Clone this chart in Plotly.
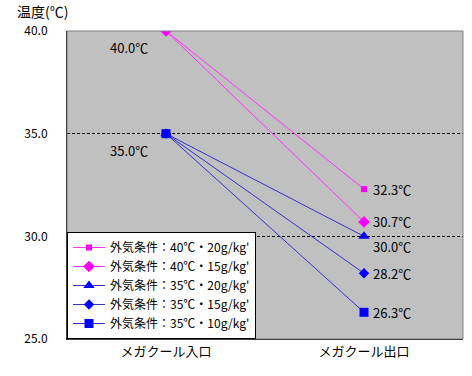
import plotly.graph_objects as go

categories = ["メガクール入口", "メガクール出口"]
series_names = [
    "外気条件：40℃・20g/kg'",
    "外気条件：40℃・15g/kg'",
    "外気条件：35℃・20g/kg'",
    "外気条件：35℃・15g/kg'",
    "外気条件：35℃・10g/kg'",
]
inlet_temps = [40.0, 40.0, 35.0, 35.0, 35.0]
outlet_temps = [32.3, 30.7, 30.0, 28.2, 26.3]
y_ticks = [25.0, 30.0, 35.0, 40.0]

colors = ["#FF00FF", "#FF00FF", "#0000FF", "#0000FF", "#0000FF"]
line_colors = ["#FF33FF", "#FF33FF", "#3333CC", "#3333CC", "#3333CC"]
symbols = ["square", "diamond", "triangle-up", "diamond", "square"]
sizes = [6, 9, 10, 8, 9]

FONT = "Noto Sans CJK JP"
fig = go.Figure()
for name, a, b, c, lc, s, sz in zip(series_names, inlet_temps, outlet_temps, colors, line_colors, symbols, sizes):
    fig.add_trace(go.Scatter(
        x=categories, y=[a, b], name=name, mode="lines+markers",
        line=dict(color=lc, width=1),
        marker=dict(color=c, symbol=s, size=sz),
    ))

# value labels
for v in sorted(set(inlet_temps)):
    fig.add_annotation(x=categories[0], y=v, text=f"{v:.1f}℃", showarrow=False,
                       xanchor="right", yanchor="top", xshift=-16, yshift=-5,
                       font=dict(family=FONT, size=13, color="black"))
for v in outlet_temps:
    fig.add_annotation(x=categories[1], y=v, text=f"{v:.1f}℃", showarrow=False,
                       xanchor="left", yanchor="middle", xshift=7,
                       yshift=-10 if v == 30.0 else 0,
                       font=dict(family=FONT, size=13, color="black"))

fig.add_annotation(xref="paper", yref="paper", x=-0.132, y=1.025, text="温度(℃)",
                   showarrow=False, xanchor="left", yanchor="bottom",
                   font=dict(family=FONT, size=14, color="black"))

fig.add_shape(type="rect", xref="paper", yref="paper", x0=0, y0=0, x1=1, y1=1,
              line=dict(color="#808080", width=1), layer="above")

fig.update_layout(
    width=472, height=376,
    margin=dict(l=67, r=9, t=31, b=37, autoexpand=False),
    paper_bgcolor="white", plot_bgcolor="#C0C0C0",
    font=dict(family=FONT, size=12, color="black"),
    showlegend=True,
    legend=dict(x=0, y=0, xanchor="left", yanchor="bottom",
                bgcolor="white", bordercolor="black", borderwidth=1,
                font=dict(family=FONT, size=12, color="black"),
                tracegroupgap=0, itemwidth=32),
    xaxis=dict(type="category", range=[-0.5, 1.5], showgrid=False, zeroline=False,
               showline=True, linecolor="black", linewidth=1, ticks="",
               tickfont=dict(family=FONT, size=13)),
    yaxis=dict(range=[25, 40], tickvals=y_ticks, tickformat=".1f",
               showgrid=True, gridcolor="black", griddash="3px,2px", gridwidth=1,
               zeroline=False, showline=True, linecolor="black", linewidth=1,
               ticks="", ticklabelstandoff=16,
               tickfont=dict(family=FONT, size=12)),
)

fig.write_html("out.html", config={"displayModeBar": False},
               post_script="document.body.style.margin='0';")
